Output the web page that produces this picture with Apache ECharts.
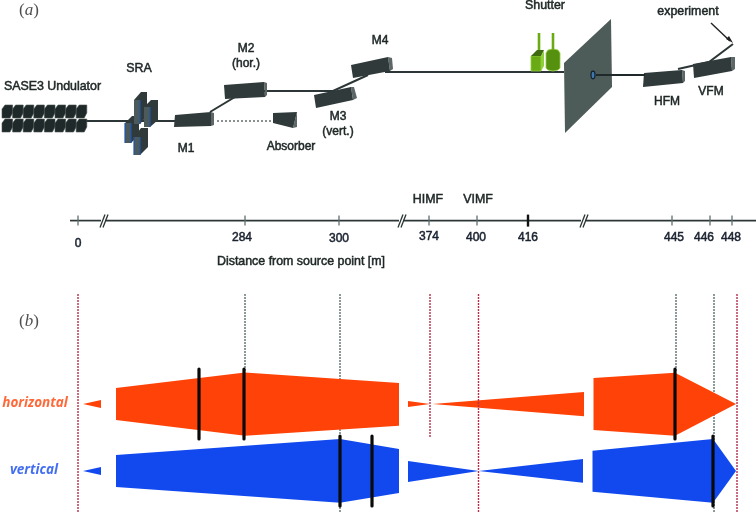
<!DOCTYPE html>
<html><head><meta charset="utf-8">
<style>html,body{margin:0;padding:0;background:#fff}#c{width:756px;height:513px}</style>
<script src="https://cdn.jsdelivr.net/npm/echarts@6/dist/echarts.min.js"></script>
</head><body><div id="c"></div>
<script>
// ---- panel (b): beam envelopes, in the picture's own x / y scale
const horizontalEnvelopes = [
  [[83,404],[101,400],[101,408]],
  [[116,388],[245,372.5],[399,383],[399,425.7],[245,435.7],[116,420]],
  [[408,401],[430,404],[408,407]],
  [[432.5,404],[584,392],[584,416.3]],
  [[593.5,378],[675,372.7],[736,404],[675,435.7],[593.5,430]]
];
const verticalEnvelopes = [
  [[83,471],[101,467],[101,475]],
  [[116,455],[340,439],[399,449],[399,493],[340,502.7],[116,487]],
  [[408,461],[478.7,471],[583,459],[583,482.7],[478.7,471],[408,482]],
  [[592.5,450.7],[713,439],[736,471],[713,502.7],[592.5,491.7]]
];
const opticsBars = [[199,369,439],[244,369,439],[340,436,506],[372,436,506],[675,369,439],[713,436,506]];
const redMarkers = [[78,294,513],[430,294,438],[478.5,294,513],[737,294,513]];
const grayMarkers = [[245,294,372],[340,294,513],[676,294,372],[714,294,513]];
// ---- distance axis
const axisSegments = [[70,101],[105,399],[403,581],[585,756]];
const axisY = 220.6;
const tickX = [78,245,339,429,477,528,672,710,732];
const tickLabelX = [78,242,339,429,476,528,674,704,731];
const tickLabelY = [244,238,239,237,238,238,238,238,238];
const tickLabels = ['0','284','300','374','400','416','445','446','448'];
const breakX = [103,401,583];
// ---- panel (a): instruments
const mirrorFaces = [
  [[175,115],[211,112],[211,126],[174,127]],
  [[224,85],[264,82],[265,97],[225,99]],
  [[314,95],[351,87],[353,100],[316,108]],
  [[351,65],[388,57],[390,71],[353,78]],
  [[644,73],[682,70],[683,83],[643,87]],
  [[693,64],[731,57],[732,71],[694,78]],
  [[273,113],[297,112],[293,128],[273,123]]
];
const mirrorEnds = [
  [[211,112],[214,113],[214,125],[211,126]],
  [[264,82],[267,83],[267,95],[265,97]],
  [[351,87],[354,87],[357,98],[353,100]],
  [[388,57],[392,58],[393,69],[390,71]],
  [[682,70],[685,71],[685,81],[683,83]],
  [[731,57],[735,57],[735,69],[732,71]],
  [[297,112],[297,127],[293,128]]
];
const bladeFaces = [
  [[134,100],[140,100],[140,124],[134,124]],
  [[144,107],[150,107],[150,127],[144,127]],
  [[125,123],[131,123],[131,143],[125,143]],
  [[134,137],[140,137],[140,155],[134,155]]
];
const bladeSides = [
  [[134,100],[141,92],[147,92],[147,116],[140,124],[140,100]],
  [[144,107],[151,100],[158,100],[158,120],[150,127],[150,107]],
  [[125,123],[132,116],[139,116],[139,135],[131,143],[131,123]],
  [[134,137],[141,128],[148,128],[148,147],[140,155],[140,137]]
];
const bladeStripes = [
  [[140,100],[140,124]],[[150,107],[150,127]],[[131,123],[131,143]],[[140,137],[140,155]],
  [[125,123],[125,143]],[[134,137],[134,155]]
];
const undulatorX = [2,12.6,23.2,33.8,44.4,55,65.6,76.2];
const undulatorY = [105,119];
const shutterBlock = [[[531,56],[541,56],[541,71],[531,71]]];
const shutterBlockSide = [[[541,56],[544,51],[544,66],[541,71]]];
const shutterTop = [[[531,56],[537,50],[544,50],[541,56]]];
const shutterCylinder = [[[546,53],[548,50],[553,49],[558,50],[560,53],[560,68],[558,70],[553,71],[548,70],[546,68]]];
const shutterRods = [[[539,33],[539,50]],[[553,33],[553,50]]];
const plate = [[[564,63],[611,19],[612,87],[565,133]]];
const beamPath = [
  [[86,121],[175,121]],
  [[210,112],[245,91],[333,91],[368,75]],
  [[385,72],[564,72]],
  [[596,75],[645,75]],
  [[678,69],[709,62],[733,44]]
];
const absorberBeam = [[[217,121],[283,121]]];
const pointerLine = [[[711,23],[730,41]]];
const pointerHead = [[[733,43],[726,39],[729,36]]];
// ---- text
const labels = [
  ['SASE3 Undulator',52.5,87,12.4],['SRA',139,69,12.4],['M1',186,149,12],
  ['M2',246,49,12],['(hor.)',246,64,12],['Absorber',291,147,12],
  ['M3',338,117,12],['(vert.)',338,132,12],['M4',380,41,12],
  ['Shutter',545,6,12.4],['experiment',688,12,12.4],['HFM',667,102,12],['VFM',711,92,12],
  ['HIMF',428,200,12.4],['VIMF',478,200,12.4],
  ['Distance from source point [m]',301,261.5,12.4]
];

const C = {dark:'#303a3a', under:'#1f2929', end:'#5d6767', face:'#4c5a5a', plate:'#4d5b59', line:'#2c3636', blue:'#1f55b0',
  orange:'#ff4207', vblue:'#1149ee', red:'#b5304a', gray:'#5f6f6f', g1:'#6aaa14', g2:'#3f6a10', g3:'#8fcf3a', g4:'#55900f'};

function poly(shapes, fill, z, stroke, lineWidth){
  return {type:'custom', coordinateSystem:'cartesian2d', z, silent:true,
    data:shapes.map((s,i)=>[s[0][0],s[0][1],i]), encode:{x:0,y:1},
    renderItem:(p,api)=>({type:'polygon',shape:{points:shapes[api.value(2)].map(q=>api.coord(q))},
      style:{fill,stroke:stroke||null,lineWidth:lineWidth||0}})};
}
function path(shapes, stroke, lineWidth, z, lineDash, lineCap){
  return {type:'custom', coordinateSystem:'cartesian2d', z, silent:true,
    data:shapes.map((s,i)=>[s[0][0],s[0][1],i]), encode:{x:0,y:1},
    renderItem:(p,api)=>({type:'polyline',shape:{points:shapes[api.value(2)].map(q=>api.coord(q))},
      style:{stroke,lineWidth,fill:'none',lineDash:lineDash||null,lineCap:lineCap||'butt'}})};
}
function texts(items, fill, fontOf, z){
  return {type:'custom', coordinateSystem:'cartesian2d', z, silent:true,
    data:items.map((t,i)=>[t[1],t[2],i]), encode:{x:0,y:1},
    renderItem:(p,api)=>{const t=items[api.value(2)],c=api.coord([t[1],t[2]]);
      return {type:'text',style:{x:c[0],y:c[1],text:t[0],fill,font:fontOf(t),textAlign:'center',textVerticalAlign:'middle',stroke:fill,lineWidth:0.5}};}};
}
const vertical = a => a.map(m=>[[m[0],m[1]],[m[0],m[2]]]);
const undulatorBlocks = [];
undulatorX.forEach(x=>undulatorY.forEach(y=>undulatorBlocks.push(
  [[x,y+4],[x+3,y],[x+10.6,y],[x+10.6,y+8],[x+8,y+13],[x,y+13]])));
const ticks = tickX.map((x,i)=>[[x,axisY-(i===5?6:5)],[x,axisY+(i===5?6:5)]]);
const breaks = [];
breakX.forEach(x=>{breaks.push([[x-3,axisY+7],[x+2,axisY-6]]);breaks.push([[x,axisY+7],[x+5,axisY-6]]);});
const tickTexts = tickLabels.map((t,i)=>[t,tickLabelX[i],tickLabelY[i]]);

const labelScatter = (text,x,y,rich,color,name)=>({type:'scatter',name,symbolSize:0,silent:true,z:30,data:[[x,y]],
  label:{show:true,position:'inside',formatter:text,color,rich}});
const serifRich = {r:{fontFamily:'Liberation Serif',fontSize:17,color:'#222'},i:{fontFamily:'Liberation Serif',fontStyle:'italic',fontSize:17,color:'#222'}};

const chart = echarts.init(document.getElementById('c'),null,{renderer:'canvas'});
chart.setOption({
  animation:false,
  grid:{left:0,right:0,top:0,bottom:0},
  xAxis:{type:'value',min:0,max:756,show:false},
  yAxis:{type:'value',min:0,max:513,inverse:true,show:false},
  series:[
    path(vertical(grayMarkers),C.gray,1.4,1,[2,1]),
    poly(horizontalEnvelopes,C.orange,2),
    poly(verticalEnvelopes,C.vblue,2),
    path(vertical(redMarkers),C.red,1.4,3,[2,1]),
    path(vertical(opticsBars),'#0a0a0a',3.2,4,null,'round'),
    path(beamPath,C.line,2,4),
    poly(undulatorBlocks,C.under,5,'#46524f',0.6),
    poly(bladeSides,C.dark,5),
    poly(bladeFaces,C.face,6),
    path(bladeStripes,C.blue,1.2,6),
    poly(mirrorEnds,C.end,5),
    poly(mirrorFaces,C.dark,5),
    poly(plate,C.plate,5),
    poly(shutterBlockSide,C.g3,5),
    poly(shutterBlock,C.g1,5,C.g3,0.8),
    poly(shutterTop,C.g2,6),
    poly(shutterCylinder,C.g4,5,C.g3,0.8),
    path(shutterRods,C.g1,2.6,5),
    path(absorberBeam,C.line,1.1,7,[2,2]),
    path(pointerLine,'#222',1.4,7),
    poly(pointerHead,'#222',7),
    {type:'custom',coordinateSystem:'cartesian2d',z:7,silent:true,data:[[593,75]],encode:{x:0,y:1},
      renderItem:(p,api)=>{const c=api.coord([api.value(0),api.value(1)]);
        return {type:'ellipse',shape:{cx:c[0],cy:c[1],rx:2,ry:3.8},style:{fill:'#3f78b0',stroke:'#10202e',lineWidth:1.2}};}},
    path([beamPath[3]],C.under,2,7),
    path(axisSegments.map(s=>[[s[0],axisY],[s[1],axisY]]),C.line,1.7,6),
    path(ticks.filter((_,i)=>i!==5),C.gray,1.3,6),
    path([ticks[5]],'#111',2.4,6),
    path(breaks,C.line,1.3,6),
    texts(labels,'#1e2626',t=>`${t[3]}px "Liberation Sans"`,20),
    texts(tickTexts,'#1a2230',()=>'12px "Liberation Sans"',20),
    labelScatter('{r|(}{i|a}{r|)}',29,11,serifRich,'#222','panel a'),
    labelScatter('{r|(}{i|b}{r|)}',29,322,serifRich,'#222','panel b'),
    labelScatter('horizontal',35,403.5,null,C.orange,'horizontal'),
    labelScatter('vertical',34,470.5,null,C.vblue,'vertical')
  ].map(s=>{ if(s.name==='horizontal'||s.name==='vertical'){s.label.fontFamily='Open Sans';s.label.fontStyle='italic';s.label.fontWeight='bold';s.label.fontSize=13.5;} return s;})
});
</script></body></html>
